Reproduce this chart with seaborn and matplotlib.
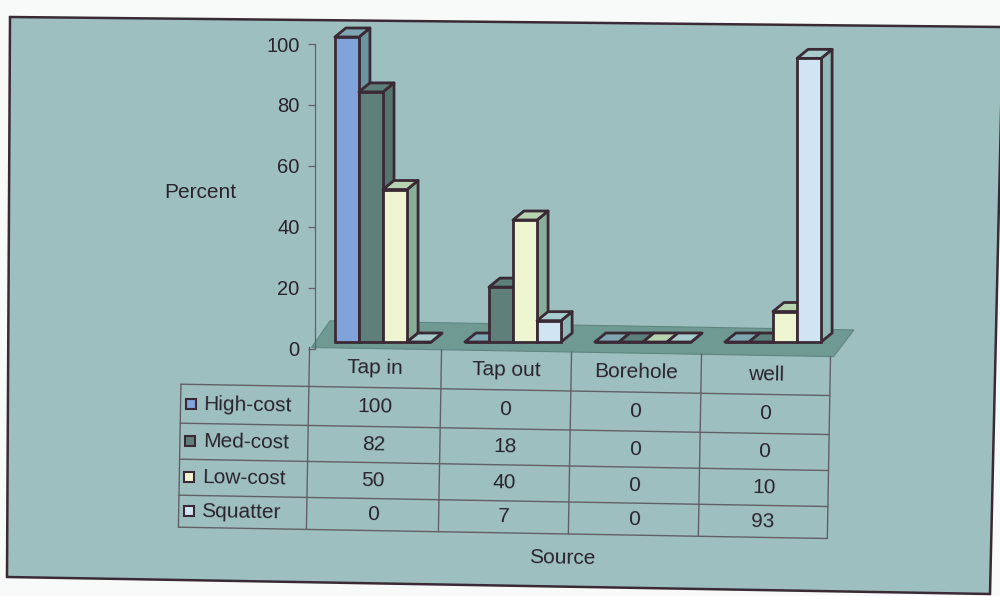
import numpy as np
import pandas as pd
import matplotlib
matplotlib.use("Agg")
import matplotlib.pyplot as plt
from matplotlib.patches import Polygon, Rectangle
from matplotlib.lines import Line2D
import seaborn as sns

# ---- data -------------------------------------------------------------
sources = ["Tap in", "Tap out", "Borehole", "well"]
housing = ["High-cost", "Med-cost", "Low-cost", "Squatter"]
high_cost = [100, 0, 0, 0]
med_cost = [82, 18, 0, 0]
low_cost = [50, 40, 0, 10]
squatter = [0, 7, 0, 93]
y_ticks = [0, 20, 40, 60, 80, 100]

series = [high_cost, med_cost, low_cost, squatter]

# ---- style ------------------------------------------------------------
front_colors = ["#80a3da", "#5f7f7a", "#eff5d0", "#d0e4f4"]
top_colors = ["#7fa6b3", "#5c807a", "#b8d3b0", "#a8cdce"]
side_colors = ["#6b95a0", "#557670", "#88ae99", "#8fb8b6"]
outline = "#3a2a35"
text_color = "#29232e"
panel_color = "#9ebfbf"
floor_color = "#6f9a94"
grid_color = "#625f68"
FS = 15

sns.set_theme(style="white")
plt.rcParams["font.family"] = ["Liberation Sans", "DejaVu Sans"]

W, H = 1000, 596
fig = plt.figure(figsize=(W / 100, H / 100), dpi=100)
fig.patch.set_facecolor("#f8fafa")

# background layer in pixel coordinates (y grows downward)
bg = fig.add_axes([0, 0, 1, 1], zorder=0)
bg.set_xlim(0, W)
bg.set_ylim(H, 0)
bg.axis("off")

bg.add_patch(Polygon([(10, 17), (1003, 27), (990, 594), (7, 577)],
                     closed=True, facecolor=panel_color, edgecolor=outline,
                     linewidth=1.8))

# slight scan tilt applied to the table and floor geometry
theta = np.deg2rad(1.0)
cx, cy = 570.0, 440.0


def rot(x, y):
    dx, dy = x - cx, y - cy
    return (cx + dx * np.cos(theta) - dy * np.sin(theta),
            cy + dx * np.sin(theta) + dy * np.cos(theta))


def rline(x0, y0, x1, y1, **kw):
    a = rot(x0, y0)
    b = rot(x1, y1)
    bg.add_line(Line2D([a[0], b[0]], [a[1], b[1]], **kw))


def rtext(x, y, s, **kw):
    px, py = rot(x, y)
    bg.text(px, py, s, rotation=-1.0, rotation_mode="anchor",
            color=text_color, fontsize=FS, **kw)


# floor of the 3-D plot area
floor_pts = [rot(310, 352), rot(832, 352), rot(852, 325), rot(328, 325)]
bg.add_patch(Polygon(floor_pts, closed=True, facecolor=floor_color,
                     edgecolor="#5f8580", linewidth=0.8))

# ---- data table -------------------------------------------------------
col_edges = [308, 440, 570, 700, 829]
row_edges = [391, 430, 466, 502, 534]
header_top = 352
left_edge = 180
line_kw = dict(color=grid_color, linewidth=1.0)

# horizontal rules
for y in row_edges:
    rline(left_edge, y, col_edges[-1], y, **line_kw)
# vertical rules
rline(left_edge, row_edges[0], left_edge, row_edges[-1], **line_kw)
for x in col_edges:
    rline(x, header_top, x, row_edges[-1], **line_kw)

# column headers
for j, name in enumerate(sources):
    xc = (col_edges[j] + col_edges[j + 1]) / 2
    rtext(xc, (header_top + row_edges[0]) / 2, name, ha="center", va="center")

# row labels with legend keys, and the values
for i, name in enumerate(housing):
    yc = (row_edges[i] + row_edges[i + 1]) / 2
    kx, ky = rot(185, yc)
    bg.add_patch(Rectangle((kx, ky - 5), 10, 10, facecolor=front_colors[i],
                           edgecolor=outline, linewidth=1.5))
    rtext(203, yc, name, ha="left", va="center")
    for j, v in enumerate(series[i]):
        xc = (col_edges[j] + col_edges[j + 1]) / 2
        rtext(xc, yc, f"{v}", ha="center", va="center")

bg.text(562, 558, "Source", ha="center", va="center", rotation=-1.0,
        color=text_color, fontsize=FS)
bg.text(200, 192, "Percent", ha="center", va="center",
        color=text_color, fontsize=FS)

# ---- clustered bars ---------------------------------------------------
df = pd.DataFrame({
    "Source": np.tile(sources, len(housing)),
    "Housing": np.repeat(housing, len(sources)),
    "Percent": np.concatenate([np.asarray(s, float) for s in series]),
})

ax = fig.add_axes([318 / W, 1 - 342 / H, 520 / W, 305 / H], zorder=1)
ax.patch.set_alpha(0)
sns.barplot(data=df, x="Source", y="Percent", hue="Housing",
            order=sources, hue_order=housing, palette=front_colors,
            width=0.74, saturation=1, edgecolor=outline, linewidth=2.0,
            errorbar=None, legend=False, ax=ax)
ax.set_xlim(-0.5, len(sources) - 0.5)
ax.set_ylim(0, 100)
ax.axis("off")

# depth of each column: 11 px across, 9 px up
dx = 11 / 130
dy = 9 / 305 * 100
for i, cont in enumerate(ax.containers):
    for bar in cont:
        x0, w, h = bar.get_x(), bar.get_width(), bar.get_height()
        x1 = x0 + w
        bar.set_zorder(3 + i)
        bar.set_clip_on(False)
        side = Polygon([(x1, 0), (x1 + dx, dy), (x1 + dx, h + dy), (x1, h)],
                       closed=True, facecolor=side_colors[i],
                       edgecolor=outline, linewidth=2.0, zorder=2.5 + i,
                       clip_on=False, joinstyle="round")
        top = Polygon([(x0, h), (x0 + dx, h + dy), (x1 + dx, h + dy), (x1, h)],
                      closed=True, facecolor=top_colors[i],
                      edgecolor=outline, linewidth=2.0, zorder=2.6 + i,
                      clip_on=False, joinstyle="round")
        ax.add_patch(side)
        ax.add_patch(top)

# ---- value axis -------------------------------------------------------
axy = fig.add_axes([315 / W, 1 - 349 / H, 0.0005, 305 / H], zorder=1)
axy.patch.set_alpha(0)
axy.set_ylim(0, 100)
axy.set_yticks(y_ticks)
axy.set_xticks([])
for s in ["top", "right", "bottom"]:
    axy.spines[s].set_visible(False)
axy.spines["left"].set_color(grid_color)
axy.spines["left"].set_linewidth(0.9)
axy.tick_params(axis="y", direction="out", length=5, width=0.9,
                color=grid_color, labelsize=14.5, labelcolor=text_color,
                pad=6, left=True)

fig.savefig("out.png", dpi=100, facecolor=fig.get_facecolor())
